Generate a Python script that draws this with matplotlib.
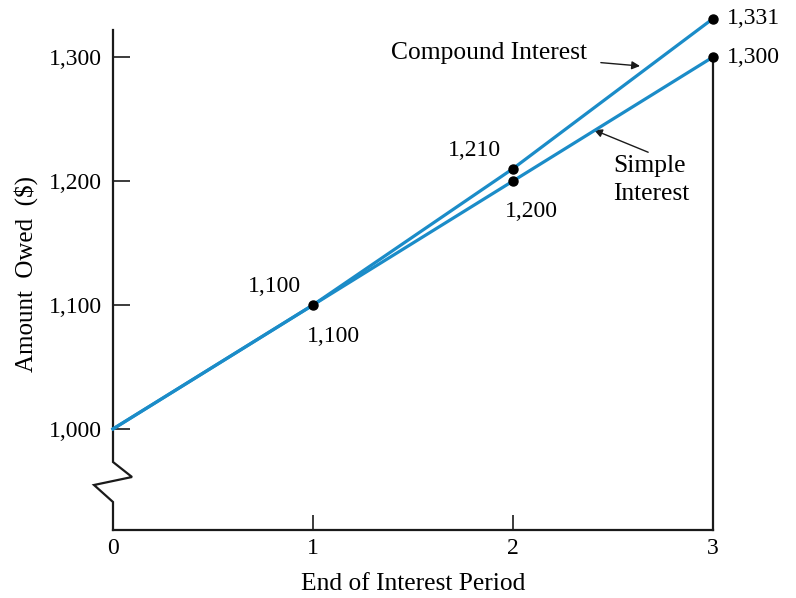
import matplotlib
matplotlib.use("Agg")
import matplotlib.pyplot as plt

plt.rcParams['font.family'] = ['Liberation Serif', 'DejaVu Serif']

periods = [0, 1, 2, 3]
simple = [1000, 1100, 1200, 1300]
compound = [1000, 1100, 1210, 1331]
ytick_vals = [1000, 1100, 1200, 1300]
ytick_labels = ["1,000", "1,100", "1,200", "1,300"]
xtick_vals = [0, 1, 2, 3]
xtick_labels = ["0", "1", "2", "3"]

BLUE = "#1b8cc8"
INK = "#1a1a1a"
FS = 17
FT = 18.4

W, H = 796, 598
fig = plt.figure(figsize=(W / 100, H / 100), dpi=100)
# axes from x=113..713 px, y=30..530 px
ax = fig.add_axes([113 / W, (H - 530) / H, 600 / W, 500 / H])
ymin, ymax = 918.5, 1321.8
ax.set_xlim(0, 3)
ax.set_ylim(ymin, ymax)

for s in ['top', 'right', 'left']:
    ax.spines[s].set_visible(False)
ax.spines['bottom'].set_linewidth(1.6)
ax.spines['bottom'].set_color(INK)

# left axis with zigzag break (pixel -> data conversion)
def py2y(py):
    return ymin + (530 - py) / 500 * (ymax - ymin)

def px2x(px):
    return (px - 113) / 200

zx = [0, 0, px2x(94), px2x(132), 0, 0]
zy = [ymin, py2y(502), py2y(485), py2y(477), py2y(462), ymax]
ax.plot(zx, zy, color=INK, lw=1.6, clip_on=False, solid_joinstyle='miter', zorder=3)

# vertical line at last period
ax.plot([periods[-1], periods[-1]], [ymin, simple[-1]], color=INK, lw=1.6,
        clip_on=False, zorder=3)

ax.plot(periods, simple, color=BLUE, lw=2.3, clip_on=False, zorder=4)
ax.plot(periods, compound, color=BLUE, lw=2.3, clip_on=False, zorder=4)
ax.plot(periods[1:], simple[1:], 'o', color='black', ms=6.5, clip_on=False, zorder=5)
ax.plot(periods[2:], compound[2:], 'o', color='black', ms=6.5, clip_on=False, zorder=5)

ax.set_yticks(ytick_vals)
ax.set_yticklabels(ytick_labels)
ax.set_xticks(xtick_vals)
ax.set_xticklabels(xtick_labels)
ax.tick_params(axis='y', direction='in', length=12, width=1.2, color=INK,
               labelsize=FS, pad=8)
ax.tick_params(axis='x', direction='in', length=11, width=1.2, color=INK,
               labelsize=FS, pad=6)

ax.set_xlabel("End of Interest Period", fontsize=FT, labelpad=10)
ax.set_ylabel("Amount  Owed  ($)", fontsize=18, labelpad=14)
ax.yaxis.set_label_coords(-0.125, 0.512)

def lab(x, y, text, dx, dy, ha='left', va='center'):
    ax.annotate(text, (x, y), xytext=(dx, dy), textcoords='offset pixels',
                ha=ha, va=va, fontsize=FS, annotation_clip=False)

lab(periods[3], compound[3], "1,331", 14, 0)
lab(periods[3], simple[3], "1,300", 14, 0)
lab(periods[2], compound[2], "1,210", -12, 18, ha='right')
lab(periods[2], simple[2], "1,200", -8, -30, ha='left')
lab(periods[1], simple[1], "1,100", -12, 18, ha='right')
lab(periods[1], simple[1], "1,100", -6, -32, ha='left')

# callouts
ax.annotate("Compound Interest", xy=(px2x(640), py2y(66)), xytext=(px2x(587), py2y(53)),
            ha='right', va='center', fontsize=FT, annotation_clip=False,
            arrowprops=dict(arrowstyle='-|>', color=INK, lw=1.0,
                            mutation_scale=12, shrinkA=8, shrinkB=0))
ax.annotate("Simple\nInterest", xy=(px2x(594), py2y(130)), xytext=(px2x(613), py2y(180)),
            ha='left', va='center', fontsize=FT, linespacing=1.35, annotation_clip=False,
            arrowprops=dict(arrowstyle='-|>', color=INK, lw=1.0,
                            mutation_scale=12, shrinkA=0, shrinkB=0,
                            relpos=(0.55, 1.0)))

fig.savefig("out.png", dpi=100)
